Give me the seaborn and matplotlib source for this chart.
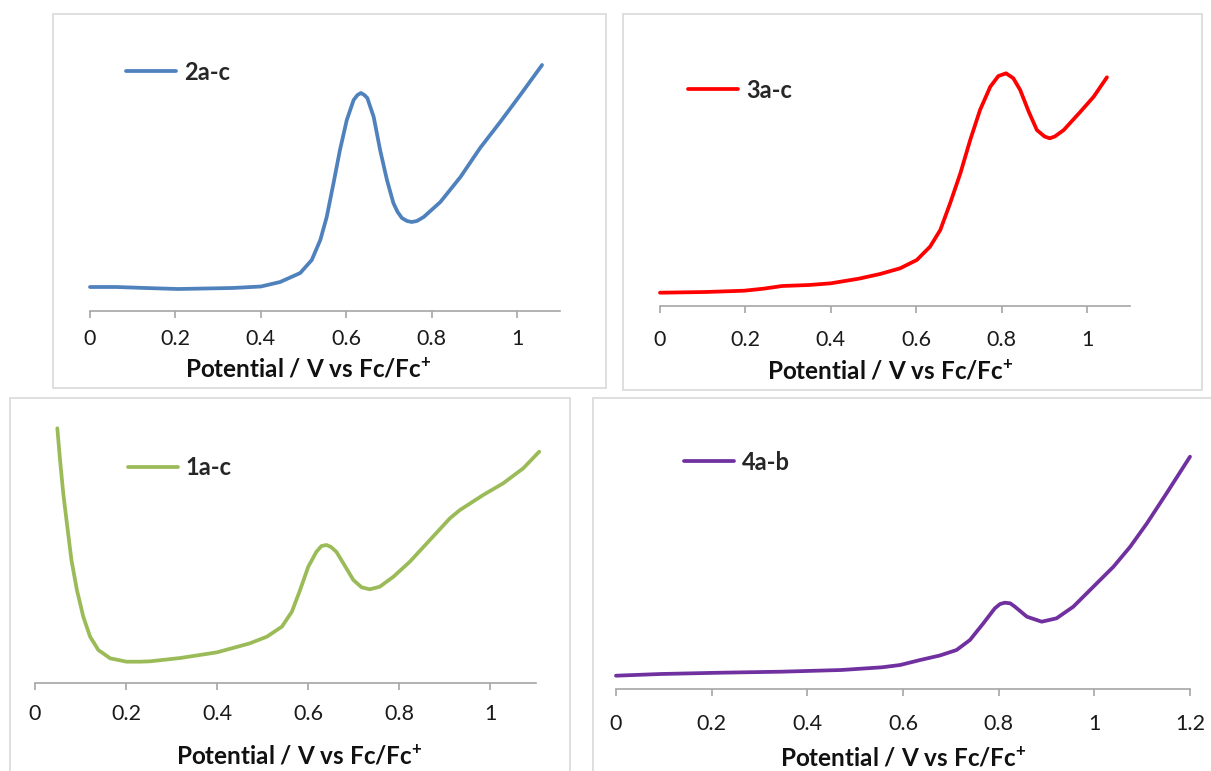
import matplotlib
matplotlib.use("Agg")
import matplotlib.pyplot as plt
from matplotlib.patches import Rectangle
from matplotlib.ticker import FuncFormatter, MultipleLocator
import seaborn as sns

# ---- voltammetry data (current in µA, potential in V vs Fc/Fc+) ----
pot_2ac = [0.000, 0.062, 0.130, 0.206, 0.333, 0.400, 0.445, 0.492, 0.519, 0.539,
           0.554, 0.570, 0.585, 0.601, 0.617, 0.626, 0.634, 0.642, 0.649, 0.664,
           0.679, 0.695, 0.710, 0.720, 0.730, 0.742, 0.753, 0.765, 0.781, 0.820,
           0.867, 0.913, 0.960, 1.007, 1.058]
cur_2ac = [2.4, 2.4, 2.3, 2.2, 2.3, 2.45, 2.9, 3.8, 5.1, 7.1,
           9.4, 12.8, 16.1, 19.1, 21.1, 21.6, 21.8, 21.6, 21.3, 19.4,
           16.1, 13.1, 10.8, 9.9, 9.3, 9.0, 8.9, 9.0, 9.4, 10.9,
           13.4, 16.3, 18.9, 21.6, 24.6]

pot_3ac = [0.000, 0.107, 0.197, 0.242, 0.286, 0.349, 0.400, 0.465, 0.515, 0.562,
           0.601, 0.632, 0.656, 0.679, 0.703, 0.726, 0.749, 0.773, 0.792, 0.810,
           0.827, 0.843, 0.863, 0.882, 0.900, 0.912, 0.924, 0.945, 0.984, 1.015,
           1.046]
cur_3ac = [1.33, 1.40, 1.53, 1.73, 2.00, 2.10, 2.27, 2.73, 3.20, 3.77,
           4.60, 5.93, 7.60, 10.27, 13.27, 16.6, 19.6, 21.93, 23.0, 23.27,
           22.77, 21.6, 19.43, 17.6, 16.95, 16.77, 16.95, 17.6, 19.43, 20.93,
           22.87]

pot_1ac = [0.049, 0.055, 0.062, 0.070, 0.080, 0.092, 0.106, 0.121, 0.139, 0.165,
           0.201, 0.231, 0.253, 0.319, 0.400, 0.472, 0.509, 0.542, 0.564, 0.582,
           0.600, 0.618, 0.629, 0.640, 0.650, 0.662, 0.677, 0.699, 0.717, 0.735,
           0.757, 0.787, 0.823, 0.867, 0.911, 0.933, 0.984, 1.028, 1.072, 1.107]
cur_1ac = [25.47, 22.3, 18.97, 15.97, 12.3, 9.3, 6.63, 4.63, 3.3, 2.47,
           2.13, 2.13, 2.17, 2.5, 3.07, 3.97, 4.63, 5.63, 7.13, 9.3,
           11.63, 13.13, 13.7, 13.8, 13.6, 13.1, 11.97, 10.3, 9.57, 9.37,
           9.63, 10.63, 12.13, 14.3, 16.47, 17.3, 18.8, 19.97, 21.47, 23.13]

pot_4ab = [0.000, 0.093, 0.219, 0.345, 0.471, 0.556, 0.594, 0.636, 0.677, 0.712,
           0.740, 0.768, 0.792, 0.803, 0.813, 0.824, 0.834, 0.859, 0.890, 0.921,
           0.956, 0.998, 1.040, 1.075, 1.110, 1.151, 1.200]
cur_4ab = [1.33, 1.50, 1.63, 1.73, 1.90, 2.17, 2.40, 2.90, 3.35, 3.90,
           4.90, 6.57, 8.07, 8.50, 8.63, 8.57, 8.23, 7.23, 6.73, 7.07,
           8.23, 10.23, 12.23, 14.23, 16.57, 19.57, 23.23]

labels = ["2a-c", "3a-c", "1a-c", "4a-b"]
colors = ["#4f81bd", "#ff0000", "#9bbb59", "#7030a0"]
x_title = r"Potential / V vs Fc/Fc$^{\mathbf{+}}$"

sns.set_style("white")
plt.rcParams["font.family"] = ["Lato", "DejaVu Sans"]
plt.rcParams["mathtext.fontset"] = "custom"
plt.rcParams["mathtext.bf"] = "Lato:bold"
plt.rcParams["mathtext.rm"] = "Lato"

W, H = 1211, 771
fig = plt.figure(figsize=(W / 100, H / 100), dpi=100)


def fx(px):
    return px / W


def fy(py):
    return 1 - py / H


# chart frames
frames = [(53, 14, 606, 388), (623, 14, 1202, 390), (10, 398, 570, 775), (593, 398, 1215, 775)]
for (l, t, r, b) in frames:
    fig.add_artist(Rectangle((fx(l), fy(b)), fx(r) - fx(l), (b - t) / H,
                             transform=fig.transFigure, fill=False,
                             edgecolor="#d9d9d9", lw=1.2))

# plot-area layout: left px, right px, axis px, top px, xmax, legend anchor, xlabel pos, tick pad
panels = [
    dict(x=pot_2ac, y=cur_2ac, box=(90, 560, 311, 40), xmax=1.1, leg=(126, 72), xl=(0.464, 58), pad=8),
    dict(x=pot_3ac, y=cur_3ac, box=(660, 1130, 306, 40), xmax=1.1, leg=(688, 90), xl=(0.491, 65), pad=12),
    dict(x=pot_1ac, y=cur_1ac, box=(35, 536, 683, 420), xmax=1.1, leg=(128, 468), xl=(0.527, 73), pad=10),
    dict(x=pot_4ab, y=cur_4ab, box=(616, 1190, 689, 420), xmax=1.2, leg=(684, 462), xl=(0.50, 69), pad=13),
]

axis_grey = "#a6a6a6"
for p, lab, col in zip(panels, labels, colors):
    x0, x1, yb, yt = p["box"]
    ax = fig.add_axes([fx(x0), fy(yb), fx(x1) - fx(x0), (yb - yt) / H])
    ax.set_facecolor("none")
    sns.lineplot(x=p["x"], y=p["y"], ax=ax, color=col, lw=2.7, label=lab,
                 estimator=None, sort=False, solid_capstyle="round",
                 solid_joinstyle="round", clip_on=False)
    ax.set_xlim(0, p["xmax"])
    ax.set_ylim(0, (yb - yt) / 10)
    for s in ("left", "right", "top"):
        ax.spines[s].set_visible(False)
    ax.spines["bottom"].set_color(axis_grey)
    ax.spines["bottom"].set_linewidth(1.2)
    ax.set_yticks([])
    ax.set_ylabel("")
    ax.xaxis.set_major_locator(MultipleLocator(0.2))
    ax.xaxis.set_major_formatter(FuncFormatter(lambda v, pos: f"{v:g}"))
    ax.tick_params(axis="x", direction="out", length=5, width=1.2, color=axis_grey,
                   labelsize=15.5, labelcolor="#1a1a1a", pad=p["pad"], bottom=True)
    ax.set_xlabel(x_title, fontsize=17.5, fontweight="bold", color="#111111")
    xl_x, xl_off = p["xl"]
    ax.xaxis.set_label_coords(xl_x, -xl_off / (yb - yt))
    ax.xaxis.label.set_va("center")
    ax.legend(loc="center left", bbox_to_anchor=(fx(p["leg"][0]), fy(p["leg"][1])),
              bbox_transform=fig.transFigure, frameon=False, handlelength=2.1,
              handletextpad=0.35, borderpad=0, borderaxespad=0,
              prop=dict(family="Lato", weight="bold", size=17))

fig.savefig("out.png", dpi=100)
